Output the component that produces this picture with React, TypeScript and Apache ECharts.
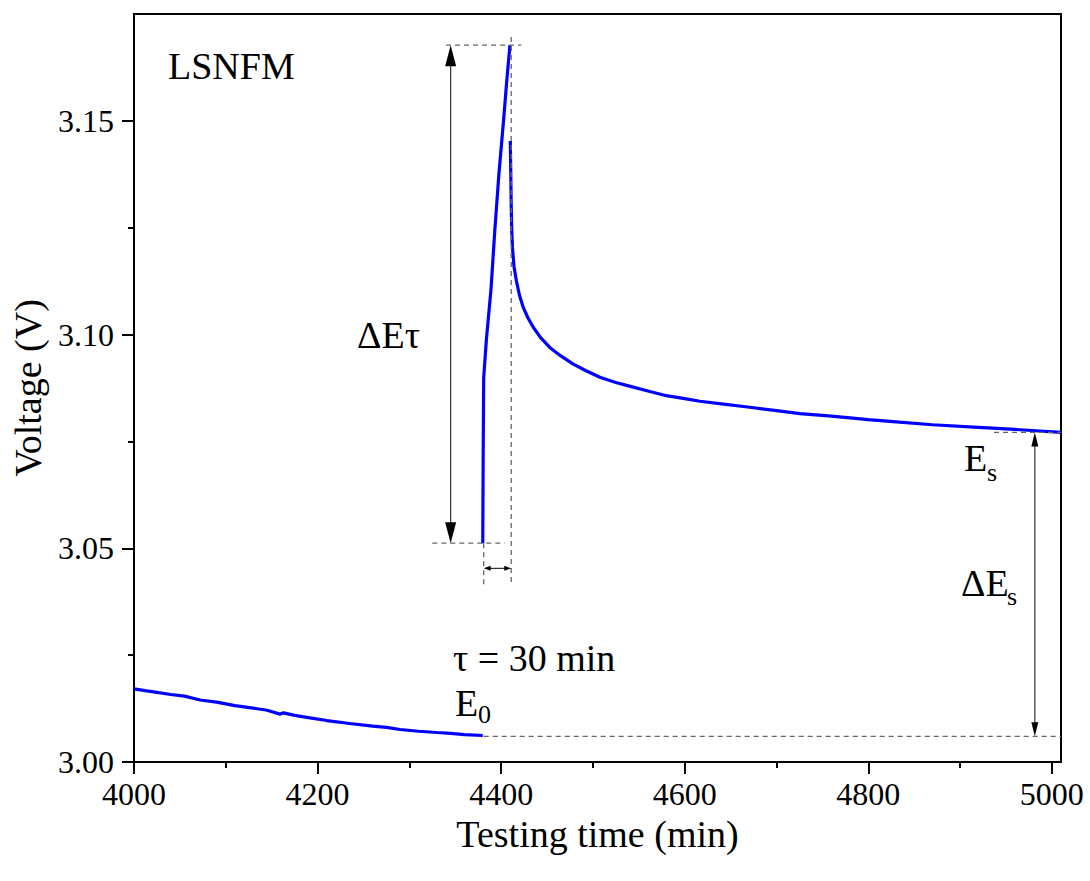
import React, { useEffect, useRef } from "react";
import * as echarts from "echarts";

// Open-circuit relaxation before the current pulse (time min, voltage V)
const relaxBefore: [number, number][] = [
  [4000, 3.0171], [4012, 3.0167], [4025, 3.0163], [4040, 3.0158], [4055, 3.0154],
  [4072, 3.0145], [4090, 3.0140], [4110, 3.0132], [4130, 3.0126], [4145, 3.0121],
  [4159, 3.0112], [4163, 3.0115], [4175, 3.0109], [4190, 3.0104], [4210, 3.0097],
  [4235, 3.0090], [4260, 3.0084], [4275, 3.0081], [4290, 3.0076], [4310, 3.0072],
  [4330, 3.0069], [4345, 3.0067], [4360, 3.0064], [4380, 3.0062],
];

// Voltage during the 30 min current pulse
const pulse: [number, number][] = [
  [4380, 3.0512], [4380.4, 3.0700], [4381, 3.0899], [4384, 3.0990], [4389, 3.1107],
  [4393, 3.1240], [4397.6, 3.1376], [4403, 3.1510], [4406, 3.1590], [4409.6, 3.1677],
];

// Relaxation after the pulse
const relaxAfter: [number, number][] = [
  [4410, 3.1453], [4410.5, 3.1380], [4411, 3.1300], [4411.5, 3.1250], [4412.3, 3.1204],
  [4414, 3.1160], [4416.6, 3.1126], [4420, 3.1092], [4424, 3.1064], [4429, 3.1040],
  [4435, 3.1017], [4443, 3.0993], [4453, 3.0970], [4465, 3.0950], [4478.6, 3.0931],
  [4492, 3.0916], [4507.6, 3.0900], [4525, 3.0888], [4543.9, 3.0877], [4560, 3.0868],
  [4580, 3.0857], [4600, 3.0850], [4616.6, 3.0844], [4640, 3.0838], [4671, 3.0830],
  [4700, 3.0822], [4725.5, 3.0815], [4760, 3.0809], [4800, 3.0801], [4834, 3.0795],
  [4870, 3.0789], [4920, 3.0783], [4960, 3.0778], [5010, 3.0771],
];

const xMajorTicks = [4000, 4200, 4400, 4600, 4800, 5000];
const xMinorTicks = [4100, 4300, 4500, 4700, 4900];
const yMajorTicks = [3.0, 3.05, 3.1, 3.15];
const yMinorTicks = [3.025, 3.075, 3.125];

// Annotation anchors in data coordinates
const tauStart = 4381;
const tauEnd = 4411;
const E0 = 3.006;
const Es = 3.0771;
const pulseBaseV = 3.0512;
const pulsePeakV = 3.1677;
const dEtauX = 4345;
const dEsX = 4981.5;
const tauArrowV = 3.0453;

const FONT = "Liberation Serif";

export default function App() {
  const ref = useRef<HTMLDivElement>(null);
  useEffect(() => {
    document.body.style.margin = "0";
    const chart = echarts.init(ref.current!, null, { renderer: "svg" });
    const lineBase = {
      type: "line",
      showSymbol: false,
      symbol: "none",
      lineStyle: { color: "#0000ff", width: 3.2 },
      itemStyle: { color: "#0000ff" },
      z: 3,
    };
    const xMin = 4000, xMax = 5010, yMin = 3.0, yMax = 3.175;
    chart.setOption({
      animation: false,
      backgroundColor: "#fff",
      textStyle: { fontFamily: FONT },
      grid: {
        left: 134, right: 29, top: 14, bottom: 119,
        show: true, borderColor: "#000", borderWidth: 2, backgroundColor: "transparent",
      },
      xAxis: [
        {
          type: "value", min: xMin, max: xMax, interval: 200,
          axisLine: { show: true, lineStyle: { color: "#000", width: 2 } },
          axisTick: { show: true, length: 12, customValues: xMajorTicks, lineStyle: { color: "#000", width: 2 } },
          axisLabel: {
            customValues: xMajorTicks, fontSize: 32, fontFamily: FONT, color: "#000", margin: 16,
            formatter: (v: number) => String(v),
          },
          splitLine: { show: false },
          name: "Testing time (min)", nameLocation: "middle", nameGap: 52,
          nameTextStyle: { fontSize: 38, fontFamily: FONT, color: "#000" },
        },
        {
          type: "value", min: xMin, max: xMax, position: "bottom",
          axisLine: { show: false },
          axisTick: { show: true, length: 6, customValues: xMinorTicks, lineStyle: { color: "#000", width: 2 } },
          axisLabel: { show: false },
          splitLine: { show: false },
        },
      ],
      yAxis: [
        {
          type: "value", min: yMin, max: yMax, interval: 0.05,
          axisLine: { show: true, lineStyle: { color: "#000", width: 2 } },
          axisTick: { show: true, length: 12, customValues: yMajorTicks, lineStyle: { color: "#000", width: 2 } },
          axisLabel: {
            customValues: yMajorTicks, fontSize: 32, fontFamily: FONT, color: "#000", margin: 20,
            formatter: (v: number) => v.toFixed(2),
          },
          splitLine: { show: false },
          name: "Voltage (V)", nameLocation: "middle", nameGap: 82,
          nameTextStyle: { fontSize: 38, fontFamily: FONT, color: "#000" },
        },
        {
          type: "value", min: yMin, max: yMax, position: "left",
          axisLine: { show: false },
          axisTick: { show: true, length: 6, customValues: yMinorTicks, lineStyle: { color: "#000", width: 2 } },
          axisLabel: { show: false },
          splitLine: { show: false },
        },
      ],
      series: [
        { ...lineBase, name: "before", data: relaxBefore },
        { ...lineBase, name: "pulse", data: pulse },
        { ...lineBase, name: "after", data: relaxAfter },
      ],
    });

    const p = (x: number, y: number) => chart.convertToPixel({ gridIndex: 0 }, [x, y]) as number[];
    const dashStyle = { stroke: "#666", lineWidth: 1.3, lineDash: [5, 4], fill: null };
    const dashed = (a: [number, number], b: [number, number]) => {
      const A = p(a[0], a[1]);
      const B = p(b[0], b[1]);
      return { type: "line", silent: true, z: 5, shape: { x1: A[0], y1: A[1], x2: B[0], y2: B[1] }, style: dashStyle };
    };
    const arrow = (a: [number, number], b: [number, number], hl: number, hw: number) => {
      const A = p(a[0], a[1]);
      const B = p(b[0], b[1]);
      const dx = B[0] - A[0], dy = B[1] - A[1];
      const L = Math.hypot(dx, dy);
      const ux = dx / L, uy = dy / L;
      const nx = -uy, ny = ux;
      const head = (tip: number[], sx: number, sy: number) => ({
        type: "polygon", silent: true, z: 6,
        shape: {
          points: [
            [tip[0], tip[1]],
            [tip[0] - sx * hl + nx * hw / 2, tip[1] - sy * hl + ny * hw / 2],
            [tip[0] - sx * hl - nx * hw / 2, tip[1] - sy * hl - ny * hw / 2],
          ],
        },
        style: { fill: "#000" },
      });
      return [
        {
          type: "line", silent: true, z: 6,
          shape: { x1: A[0] + ux * hl * 0.8, y1: A[1] + uy * hl * 0.8, x2: B[0] - ux * hl * 0.8, y2: B[1] - uy * hl * 0.8 },
          style: { stroke: "#333", lineWidth: 1.2 },
        },
        head(A, -ux, -uy),
        head(B, ux, uy),
      ];
    };
    const text = (s: string, x: number, y: number, size = 38) => ({
      type: "text", silent: true, z: 7, x, y,
      style: { text: s, fontSize: size, fontFamily: FONT, fill: "#000", align: "left", verticalAlign: "middle" },
    });

    chart.setOption({
      graphic: [
        dashed([4340, pulsePeakV], [4422, pulsePeakV]),
        dashed([4325, pulseBaseV], [4404, pulseBaseV]),
        dashed([tauStart, pulseBaseV], [tauStart, 3.0414]),
        dashed([tauEnd, 3.1696], [tauEnd, 3.0414]),
        dashed([tauStart, E0], [xMax, E0]),
        dashed([4937, Es], [xMax, Es]),
        ...arrow([dEtauX, pulseBaseV], [dEtauX, pulsePeakV], 21, 11),
        ...arrow([tauStart, tauArrowV], [tauEnd, tauArrowV], 7, 5),
        ...arrow([dEsX, Es], [dEsX, E0], 14, 7),
        text("LSNFM", 168, 66),
        text("ΔEτ", 357, 335),
        text("τ = 30 min", 453, 658),
        text("E", 455, 703),
        text("0", 478, 714, 26),
        text("E", 964, 458),
        text("s", 987, 472, 26),
        text("ΔE", 961, 583),
        text("s", 1007, 596, 26),
      ],
    });
    return () => chart.dispose();
  }, []);
  return <div ref={ref} style={{ width: 1090, height: 881 }} />;
}
